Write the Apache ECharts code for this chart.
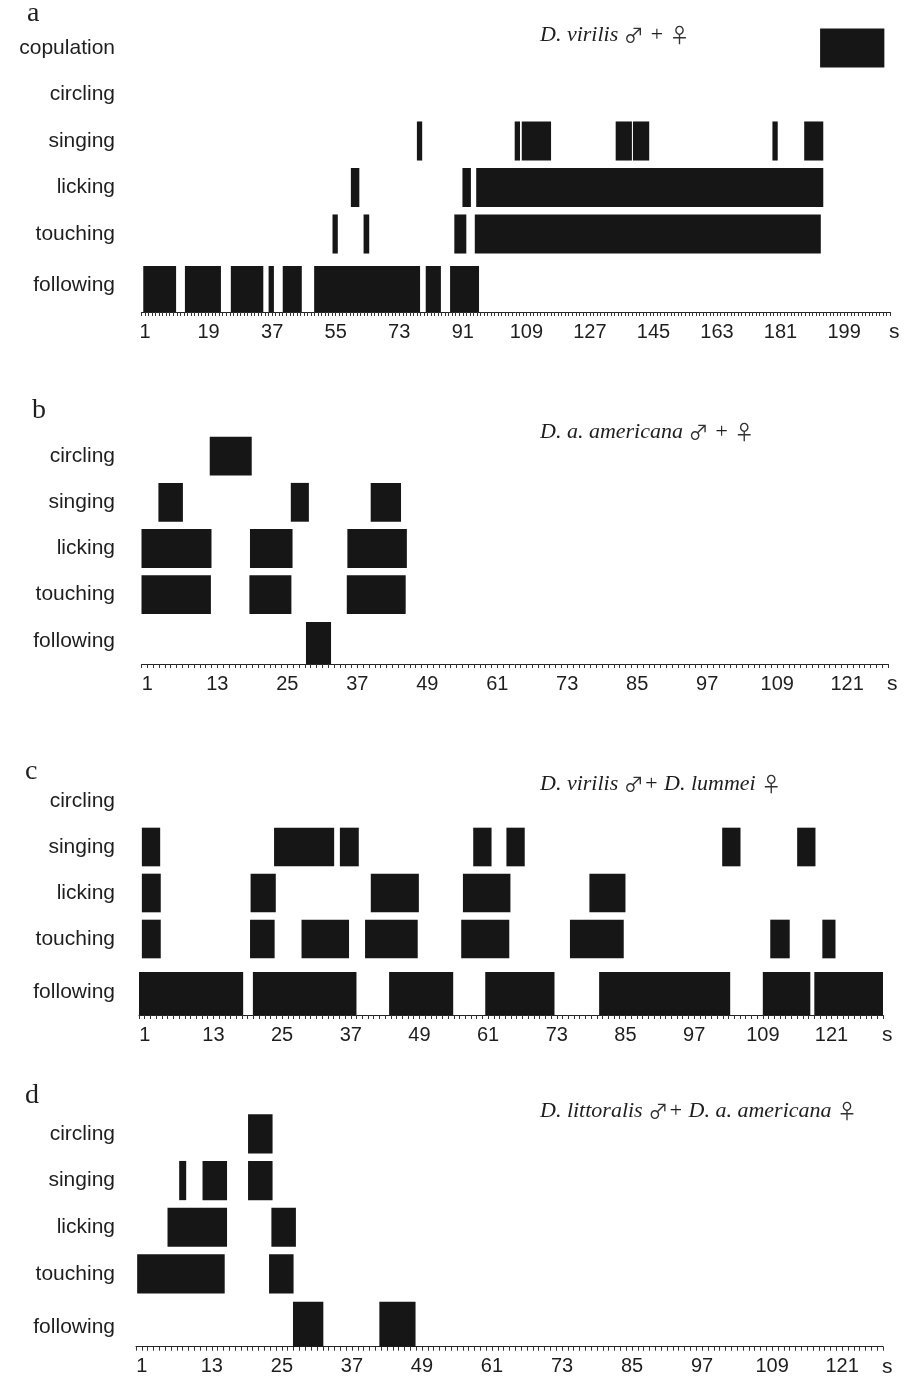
<!DOCTYPE html>
<html>
<head>
<meta charset="utf-8">
<script src="https://cdn.jsdelivr.net/npm/echarts@6/dist/echarts.min.js"></script>
<style>
  html, body { margin: 0; padding: 0; background: #fff; }
  #chart { width: 910px; height: 1381px; }
</style>
</head>
<body>
<div id="chart"></div>
<script>
// ---------------- DATA ----------------
// behaviour rows, bottom to top
const rowsA = ['following', 'touching', 'licking', 'singing', 'circling', 'copulation'];
const rowsBCD = ['following', 'touching', 'licking', 'singing', 'circling'];

// x-axis tick labels (seconds)
const tickLabelsA = [1, 19, 37, 55, 73, 91, 109, 127, 145, 163, 181, 199];
const tickLabelsBCD = [1, 13, 25, 37, 49, 61, 73, 85, 97, 109, 121];

// panel titles
const titleA = ['D. virilis ', '♂', ' + ', '♀'];
const titleB = ['D. a. americana ', '♂', ' + ', '♀'];
const titleC = ['D. virilis ', '♂', '+ D. lummei ', '♀'];
const titleD = ['D. littoralis ', '♂', '+ D. a. americana ', '♀'];

// bouts: [start s, end s]
// panel a: D. virilis male + female
const aFollowing = [[0.5, 9.8], [12.3, 22.5], [25.3, 34.5], [36.0, 37.5], [40.0, 45.4], [48.9, 78.9], [80.5, 84.8], [87.4, 95.6]];
const aTouching = [[54.1, 55.6], [62.9, 64.5], [88.6, 92.0], [94.4, 192.4]];
const aLicking = [[59.3, 61.7], [90.9, 93.3], [94.8, 193.1]];
const aSinging = [[78.0, 79.5], [105.7, 107.2], [107.7, 116.0], [134.3, 138.9], [139.2, 143.8], [178.7, 180.2], [187.7, 193.1]];
const aCircling = [];
const aCopulation = [[192.2, 210.4]];

// panel b: D. a. americana male + female
const bFollowing = [[28.2, 32.5]];
const bTouching = [[0, 11.9], [18.5, 25.7], [35.2, 45.3]];
const bLicking = [[0, 12.0], [18.6, 25.9], [35.3, 45.5]];
const bSinging = [[2.9, 7.1], [25.6, 28.7], [39.3, 44.5]];
const bCircling = [[11.7, 18.9]];

// panel c: D. virilis male + D. lummei female
const cFollowing = [[0, 18.2], [19.9, 38.0], [43.7, 54.9], [60.5, 72.6], [80.4, 103.3], [109.0, 117.3], [118.0, 130.0]];
const cTouching = [[0.5, 3.8], [19.4, 23.7], [28.4, 36.7], [39.5, 48.7], [56.3, 64.7], [75.3, 84.7], [110.3, 113.7], [119.4, 121.7]];
const cLicking = [[0.5, 3.8], [19.5, 23.9], [40.5, 48.9], [56.6, 64.9], [78.7, 85.0]];
const cSinging = [[0.5, 3.7], [23.6, 34.1], [35.1, 38.4], [58.4, 61.6], [64.2, 67.4], [101.9, 105.1], [115.0, 118.2]];
const cCircling = [];

// panel d: D. littoralis male + D. a. americana female
const dFollowing = [[26.9, 32.1], [41.7, 47.9]];
const dTouching = [[0.2, 15.2], [22.8, 27.0]];
const dLicking = [[5.4, 15.6], [23.2, 27.4]];
const dSinging = [[7.4, 8.6], [11.4, 15.6], [19.2, 23.4]];
const dCircling = [[19.2, 23.4]];

// ---------------- LAYOUT ----------------
const INK = '#161616';
const TXT = '#1e1e1e';

const panels = [
  { letter: 'a', rows: rowsA, ticks: tickLabelsA, max: 212, title: titleA,
    bouts: [aFollowing, aTouching, aLicking, aSinging, aCircling, aCopulation],
    grid: { left: 141.5, top: 24.75, width: 748.5, height: 279 }, offset: 8.25, followH: 46, followShift: 5,
    letterPos: [27, 0], titlePos: [540, 23] },
  { letter: 'b', rows: rowsBCD, ticks: tickLabelsBCD, max: 128, title: titleB,
    bouts: [bFollowing, bTouching, bLicking, bSinging, bCircling],
    grid: { left: 141.5, top: 433, width: 746.5, height: 231 }, offset: 0, followH: 42, followShift: 0,
    letterPos: [32, 397], titlePos: [540, 420] },
  { letter: 'c', rows: rowsBCD, ticks: tickLabelsBCD, max: 130, title: titleC,
    bouts: [cFollowing, cTouching, cLicking, cSinging, cCircling],
    grid: { left: 139, top: 778, width: 744, height: 230 }, offset: 7, followH: 43, followShift: 7,
    letterPos: [25, 758], titlePos: [540, 772] },
  { letter: 'd', rows: rowsBCD, ticks: tickLabelsBCD, max: 128, title: titleD,
    bouts: [dFollowing, dTouching, dLicking, dSinging, dCircling],
    grid: { left: 136, top: 1110.5, width: 747, height: 233.5 }, offset: 2.7, followH: 45, followShift: 7,
    letterPos: [25, 1082], titlePos: [540, 1099] }
];

function makeRender(p) {
  return function (params, api) {
    const row = api.value(0);
    const p0 = api.coord([api.value(1), row]);
    const p1 = api.coord([api.value(2), row]);
    const band = api.size([0, 1])[1];
    const cs = params.coordSys;
    let top, bottom;
    if (row === 0) {
      bottom = cs.y + cs.height + p.offset;
      top = bottom - p.followH;
    } else {
      top = p0[1] - 0.42 * band;
      bottom = p0[1] + 0.42 * band;
    }
    return {
      type: 'rect',
      shape: { x: p0[0], y: top, width: p1[0] - p0[0], height: bottom - top },
      style: { fill: INK }
    };
  };
}

const grids = [], xAxes = [], yAxes = [], series = [], titles = [];
panels.forEach((p, i) => {
  grids.push(Object.assign({ containLabel: false }, p.grid));
  xAxes.push({
    type: 'value', gridIndex: i, min: 0, max: p.max, interval: 1, offset: p.offset,
    axisLine: { show: true, lineStyle: { color: '#222', width: 1 } },
    axisTick: { show: true, length: 4, lineStyle: { color: '#333', width: 1 } },
    splitLine: { show: false },
    axisLabel: {
      customValues: p.ticks, margin: 10, color: TXT,
      fontFamily: "'Liberation Sans'", fontSize: 20
    },
    name: 's', nameLocation: 'end', nameGap: -1,
    nameTextStyle: { fontFamily: "'Liberation Sans'", fontSize: 21, color: TXT,
      verticalAlign: 'top', align: 'left', padding: [10, 0, 0, 0] }
  });
  yAxes.push({
    type: 'category', gridIndex: i, data: p.rows,
    axisLine: { show: false }, axisTick: { show: false }, splitLine: { show: false },
    axisLabel: {
      margin: p.grid.left - 115, color: TXT, fontFamily: "'Liberation Sans'", fontSize: 21,
      formatter: v => (v === rowsBCD[0] && p.followShift ? '{f|' + v + '}' : v),
      rich: { f: { padding: [p.followShift * 2, 0, 0, 0], fontFamily: "'Liberation Sans'", fontSize: 21, color: TXT } }
    }
  });
  const data = [];
  p.bouts.forEach((list, r) => list.forEach(b => data.push([r, b[0], b[1]])));
  series.push({
    type: 'custom', xAxisIndex: i, yAxisIndex: i,
    renderItem: makeRender(p), data: data,
    encode: { x: [1, 2], y: 0 }, silent: true, animation: false
  });
  titles.push({
    text: p.letter, left: p.letterPos[0], top: p.letterPos[1], padding: 0,
    textStyle: { fontFamily: "'Liberation Serif'", fontSize: 28, fontWeight: 'normal', color: TXT, lineHeight: 28 }
  });
  const parts = p.title.map(t => (/[♂♀]/.test(t) ? '{s|' + t + '}' : '{i|' + t + '}')).join('');
  titles.push({
    text: parts, left: p.titlePos[0], top: p.titlePos[1], padding: 0,
    textStyle: {
      fontWeight: 'normal',
      rich: {
        i: { fontFamily: "'Liberation Serif'", fontStyle: 'italic', fontWeight: 'normal', fontSize: 22, color: TXT, lineHeight: 24 },
        s: { fontFamily: "'Noto Sans CJK JP', 'DejaVu Sans'", fontWeight: 'normal', fontSize: 20, color: '#333', lineHeight: 24 }
      }
    }
  });
});

const chart = echarts.init(document.getElementById('chart'), null, { renderer: 'canvas', width: 910, height: 1381 });
chart.setOption({
  backgroundColor: '#ffffff',
  animation: false,
  textStyle: { fontFamily: "'Liberation Sans'" },
  title: titles,
  grid: grids,
  xAxis: xAxes,
  yAxis: yAxes,
  series: series
});
</script>
</body>
</html>
